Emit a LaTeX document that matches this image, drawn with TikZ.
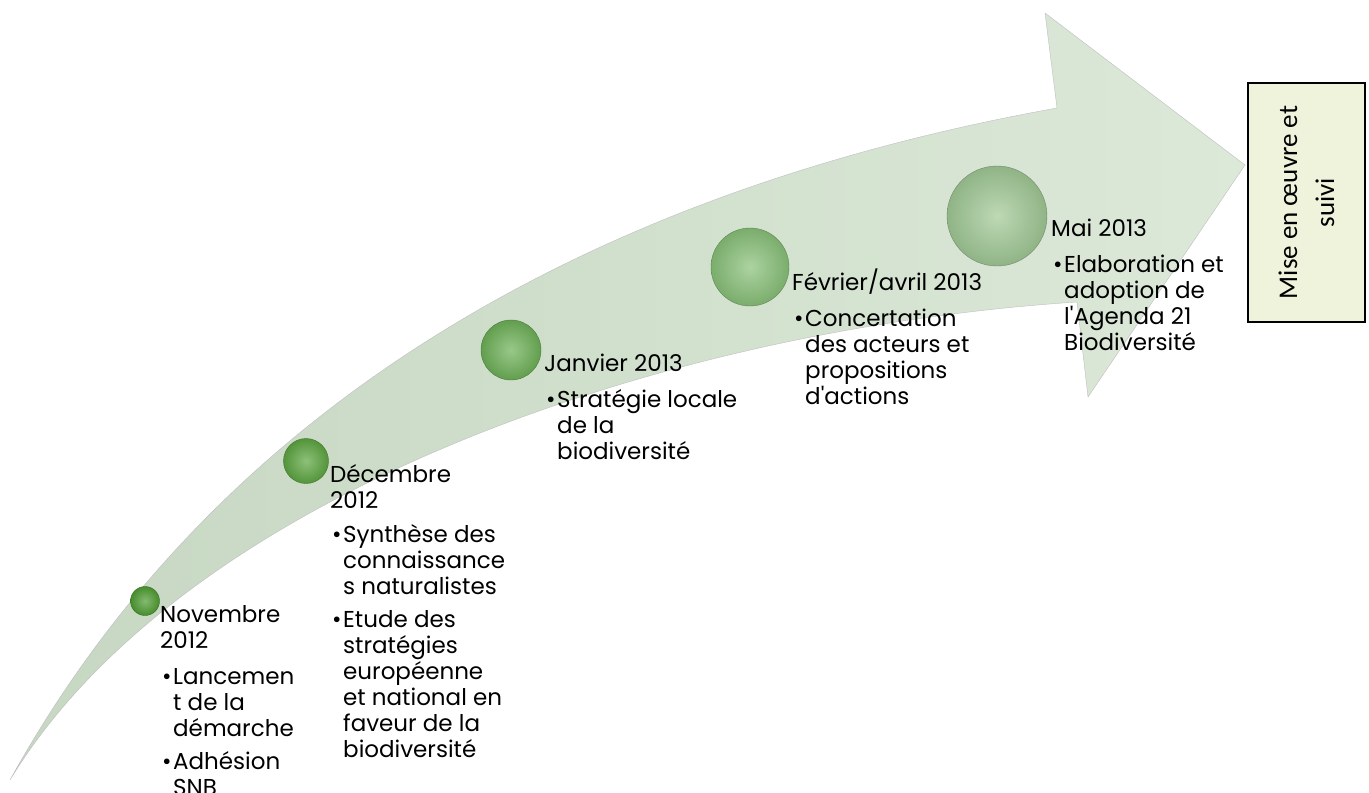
\documentclass[tikz,border=0pt]{standalone}
\usepackage{fontspec}
\setmainfont{Poppins}
\newfontfamily\boitefont{Carlito}
\usetikzlibrary{positioning}
\usetikzlibrary{shapes.geometric}

\definecolor{fleche}{HTML}{DCE8D8}
\definecolor{flechefonce}{HTML}{C6D7C2}
\definecolor{boite}{HTML}{F0F3DC}
\definecolor{boule1}{HTML}{4E9C32}
\definecolor{boule2}{HTML}{5CA540}
\definecolor{boule3}{HTML}{6DB057}
\definecolor{boule4}{HTML}{88C078}
\definecolor{boule5}{HTML}{A0C895}

\newcommand{\puce}{\makebox[13pt][l]{\hspace{2pt}•}}
\newcommand{\retrait}{\makebox[13pt]{}}

\begin{document}
\begin{tikzpicture}[x=1pt,y=-1pt,
    etape/.style 2 args={circle,inner sep=0pt,minimum size=#1,draw=#2!70!black,
        inner color=#2!70!white,outer color=#2!90!black},
    jalon/.style={anchor=north west,inner sep=0pt,align=left,font=\fontsize{23}{26}\selectfont},
    boitesuivi/.style={draw=black,line width=1.5pt,fill=boite,rotate=90,align=center,
        minimum width=239,minimum height=117,inner sep=0pt,font=\boitefont\fontsize{27}{37}\selectfont}]
    \useasboundingbox (0,0) rectangle (1369,793);

    % la fleche
    \shadedraw[left color=flechefonce,right color=fleche,draw=black!25]
        (10,780) .. controls (220,400) and (600,190) .. (1057,108)
        -- (1045,13) -- (1245,165) -- (1088,397) -- (1077,302)
        .. controls (650,330) and (180,500) .. (10,780) -- cycle;

    % les etapes
    \node[etape={29}{boule1}] (nov) at (145,601) {};
    \node[etape={45}{boule2}] (dec) at (306,461) {};
    \node[etape={60}{boule3}] (jan) at (511,350) {};
    \node[etape={78}{boule4}] (fev) at (750,267) {};
    \node[etape={100}{boule5}] (mai) at (997,216) {};

    \node[jalon] (tnov) at (160,605) {Novembre\\2012\\[10pt]\puce Lancemen\\\retrait t de la\\\retrait démarche\\[7pt]\puce Adhésion\\\retrait SNB};
    \node[jalon] (tdec) at (330,464) {Décembre\\2012\\[8pt]\puce Synthèse des\\\retrait connaissance\\\retrait s naturalistes\\[7pt]\puce Etude des\\\retrait stratégies\\\retrait européenne\\\retrait et national en\\\retrait faveur de la\\\retrait biodiversité};
    \node[jalon] (tjan) at (544,354) {Janvier 2013\\[10pt]\puce Stratégie locale\\\retrait de la\\\retrait biodiversité};
    \node[jalon] (tfev) at (792,269) {Février/avril 2013\\[10pt]\puce Concertation\\\retrait des acteurs et\\\retrait propositions\\\retrait d\textquotesingle actions};
    \node[jalon] (tmai) at (1051,219) {Mai 2013\\[10pt]\puce Elaboration et\\\retrait adoption de\\\retrait l\textquotesingle Agenda 21\\\retrait Biodiversité};

    \node[boitesuivi] (suivi) at (1306.5,202.5) {Mise en œuvre et\\suivi};
\end{tikzpicture}
\end{document}
